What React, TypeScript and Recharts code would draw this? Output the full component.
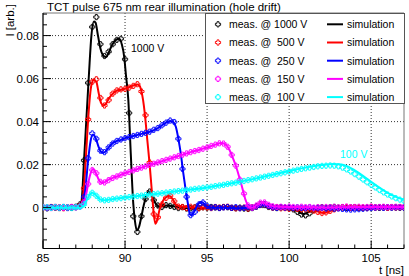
import React from "react";
import {
  ComposedChart,
  Line,
  Scatter,
  XAxis,
  YAxis,
  CartesianGrid,
  ReferenceArea,
  Legend,
} from "recharts";

const VOLTAGES = ["1000 V", " 500 V", " 250 V", " 150 V", " 100 V"];
const COLORS = ["#000000", "#ff0000", "#0000ff", "#ff00ff", "#00ffff"];

// measurement sampling times [ns]
const T_MEAS = [
  85, 85.25, 85.5, 85.75, 86, 86.25, 86.5, 86.75, 87, 87.25, 87.5, 87.75, 88, 88.25, 88.5, 88.75,
  89, 89.25, 89.5, 89.75, 90, 90.25, 90.5, 90.75, 91, 91.25, 91.5, 91.75, 92, 92.25, 92.5, 92.75,
  93, 93.25, 93.5, 93.75, 94, 94.25, 94.5, 94.75, 95, 95.25, 95.5, 95.75, 96, 96.25, 96.5, 96.75,
  97, 97.25, 97.5, 97.75, 98, 98.25, 98.5, 98.75, 99, 99.25, 99.5, 99.75, 100, 100.25, 100.5, 100.75,
  101, 101.25, 101.5, 101.75, 102, 102.25, 102.5, 102.75, 103, 103.25, 103.5, 103.75, 104, 104.25,
  104.5, 104.75, 105, 105.25, 105.5, 105.75, 106, 106.25, 106.5, 106.75, 107,
];

const MEAS_1000 = [
  0.0002, -0.0003, 0.0001, 0.0003, -0.0002, 0.0001, 0.0002, -0.0001, 0.0004, 0.0015, 0.022, 0.058,
  0.084, 0.0886, 0.076, 0.0705, 0.0725, 0.076, 0.078, 0.0785, 0.069, 0.044, -0.004, -0.0113, -0.004,
  0.004, 0.0075, 0.0035, 0.001, 0.0003, 0.0012, 0.0008, 0.0003, -0.0002, 0.0002, -0.0004, -0.0003,
  0.0001, -0.0002, 0.0002, 0, 0.0003, 0.0001, -0.0001, 0.0003, 0.0002, -0.0001, -0.0003, 0, -0.0004,
  -0.0006, -0.0002, 0.0005, 0.0015, 0.0012, 0.0003, 0.0001, -0.0002, 0.0002, -0.0001, -0.0003,
  -0.0008, -0.002, -0.0032, -0.0036, -0.0026, -0.001, 0, 0.0002, -0.0001, 0.0002, 0.0003, 0, 0.0002,
  -0.0001, 0.0001, 0.0002, 0, -0.0002, 0.0001, 0.0002, 0.0001, -0.0001, 0.0002, 0, 0.0001, 0.0002,
  -0.0001, 0.0001,
];

const MEAS_500 = [
  -0.0002, 0.0002, 0.0003, -0.0001, 0.0002, -0.0003, 0.0001, 0.0003, 0.0002, 0.0008, 0.009, 0.041,
  0.0585, 0.0597, 0.051, 0.0475, 0.05, 0.053, 0.0545, 0.055, 0.0552, 0.0558, 0.0566, 0.0574, 0.054,
  0.043, 0.021, -0.003, -0.0045, 0.0015, 0.0045, 0.0055, 0.003, 0.0005, 0.0003, -0.0002, 0.0004,
  0.0001, -0.0003, 0.0002, 0.0001, -0.0002, 0.0003, 0, 0.0002, 0.0004, -0.0001, -0.0003, -0.0002, 0,
  -0.0004, 0.0001, 0.0006, 0.0012, 0.0015, 0.0006, 0, 0.0002, -0.0003, -0.0002, -0.0005, -0.0003,
  -0.0006, -0.0008, -0.0007, -0.001, -0.0014, -0.002, -0.0025, -0.0022, -0.0015, -0.0008, -0.0002,
  0.0001, 0.0003, -0.0001, 0.0002, 0, 0.0001, -0.0002, 0.0003, 0, 0.0002, 0.0001, -0.0001, 0.0002, 0,
  0.0003, 0.0001,
];

const MEAS_250 = [
  0.0001, -0.0002, 0.0002, 0.0001, -0.0001, 0.0003, -0.0002, 0.0001, 0.0002, 0.0005, 0.005, 0.023,
  0.0345, 0.032, 0.0265, 0.0258, 0.028, 0.0298, 0.031, 0.0317, 0.0323, 0.0328, 0.0333, 0.0338,
  0.0343, 0.0348, 0.0353, 0.0362, 0.037, 0.0383, 0.0395, 0.0405, 0.0398, 0.032, 0.018, 0.005,
  -0.0035, -0.002, 0.0015, 0.0024, 0.0008, 0, 0.0002, -0.0002, 0.0001, 0.0003, -0.0001, 0.0002,
  -0.0003, -0.0001, 0.0002, 0, 0.0005, 0.0013, 0.0015, 0.0007, 0.0001, -0.0001, 0.0002, 0, 0.0001,
  -0.0002, 0.0001, -0.0001, -0.0003, 0.0001, -0.0002, -0.0003, -0.0001, -0.0004, -0.0002, -0.0005,
  -0.0004, -0.0006, -0.0008, -0.0009, -0.0008, -0.0007, -0.0005, -0.0003, -0.0002, 0, 0.0001,
  -0.0001, 0.0002, 0, 0.0001, 0.0002, 0,
];

const MEAS_150 = [
  0.0002, 0.0001, -0.0002, 0.0003, 0.0001, -0.0001, 0.0002, 0.0003, 0.0001, 0.0005, 0.0025, 0.011,
  0.0175, 0.016, 0.012, 0.0117, 0.0128, 0.0138, 0.0145, 0.0153, 0.016, 0.0166, 0.0173, 0.018, 0.0186,
  0.0192, 0.0198, 0.0204, 0.021, 0.0216, 0.0222, 0.0228, 0.0234, 0.024, 0.0246, 0.0252, 0.0258,
  0.0263, 0.0268, 0.0274, 0.028, 0.0287, 0.0293, 0.0299, 0.0298, 0.0283, 0.0245, 0.0195, 0.013,
  0.0065, 0.001, 0, 0.001, 0.0023, 0.0024, 0.0013, 0.0006, 0.0003, 0.0004, 0.0002, 0.0005, 0.0003,
  0.0001, 0.0004, 0.0002, 0.0003, 0, 0.0002, 0.0001, 0.0003, 0.0002, 0.0004, 0.0001, 0.0003, 0.0005,
  0.0002, 0.0003, 0.0004, 0.0002, 0.0003, 0.0005, 0.0002, 0.0003, 0.0004, 0.0002, 0.0003, 0.0004,
  0.0002, 0.0003,
];

const MEAS_100 = [
  0.0001, 0.0002, -0.0001, 0.0002, 0, 0.0003, 0.0001, -0.0002, 0.0002, 0.0004, 0.0015, 0.005, 0.0069,
  0.0055, 0.0038, 0.0034, 0.0036, 0.004, 0.0042, 0.0044, 0.0047, 0.0049, 0.0051, 0.0054, 0.0056,
  0.0058, 0.0061, 0.0063, 0.0065, 0.0067, 0.007, 0.0072, 0.0075, 0.0077, 0.0079, 0.0082, 0.0084,
  0.0087, 0.0089, 0.0092, 0.0094, 0.0097, 0.01, 0.0103, 0.0106, 0.011, 0.0113, 0.0116, 0.012, 0.0124,
  0.0128, 0.0132, 0.0136, 0.014, 0.0144, 0.0148, 0.0152, 0.0156, 0.016, 0.0164, 0.0168, 0.0172,
  0.0176, 0.018, 0.0183, 0.0186, 0.0189, 0.0192, 0.0194, 0.0195, 0.0196, 0.0195, 0.0192, 0.0186,
  0.0178, 0.0168, 0.0156, 0.0144, 0.0131, 0.0118, 0.0106, 0.0094, 0.0082, 0.0071, 0.0061, 0.0052,
  0.0044, 0.0037, 0.0031,
];

// simulation curves: [t (ns), I (arb.)]
const SIM_1000: [number, number][] = [
  [85, 0], [87, 0], [87.2, 0.0003], [87.35, 0.003], [87.5, 0.022], [87.65, 0.042], [87.8, 0.062],
  [87.95, 0.08], [88.1, 0.0865], [88.2, 0.086], [88.35, 0.08], [88.5, 0.074], [88.7, 0.0705],
  [88.85, 0.07], [89, 0.072], [89.2, 0.0755], [89.45, 0.078], [89.65, 0.0785], [89.8, 0.076],
  [89.95, 0.07], [90.05, 0.062], [90.2, 0.05], [90.35, 0.025], [90.5, 0.002], [90.6, -0.006],
  [90.72, -0.0106], [90.85, -0.009], [91, -0.004], [91.15, 0.0015], [91.3, 0.0055], [91.45, 0.0075],
  [91.6, 0.0065], [91.75, 0.0035], [91.9, 0.0015], [92.1, 0.0005], [92.5, 0.001], [93, 0.0005],
  [94, -0.0003], [95, 0], [96, 0.0003], [97, 0], [97.5, -0.0005], [98, 0.0003], [98.4, 0.0015],
  [99, 0.0005], [100, -0.0003], [100.5, -0.0015], [100.9, -0.003], [101.3, -0.0015], [101.8, 0],
  [103, 0.0002], [105, 0], [107, 0],
];

const SIM_500: [number, number][] = [
  [85, 0], [87.2, 0], [87.35, 0.001], [87.5, 0.01], [87.65, 0.028], [87.76, 0.042], [87.95, 0.057],
  [88.1, 0.0595], [88.25, 0.0585], [88.4, 0.053], [88.55, 0.0485], [88.7, 0.0475], [88.85, 0.0485],
  [89, 0.0505], [89.25, 0.053], [89.5, 0.0545], [89.75, 0.0548], [90, 0.0553], [90.25, 0.056],
  [90.5, 0.0568], [90.75, 0.0573], [90.9, 0.0565], [91, 0.054], [91.1, 0.05], [91.2, 0.044],
  [91.35, 0.032], [91.5, 0.02], [91.65, 0.006], [91.75, -0.003], [91.85, -0.0075], [91.95, -0.006],
  [92.1, -0.001], [92.3, 0.003], [92.5, 0.0048], [92.7, 0.0055], [92.9, 0.004], [93.1, 0.0015],
  [93.4, 0.0005], [94, 0.0002], [95, 0], [96, 0.0003], [97, -0.0003], [98, 0.0005], [98.4, 0.0015],
  [99, 0], [100, -0.0005], [101, -0.0008], [101.6, -0.0015], [102.1, -0.0025], [102.6, -0.0012],
  [103.2, 0], [105, 0], [107, 0],
];

const SIM_250: [number, number][] = [
  [85, 0], [87.3, 0], [87.45, 0.002], [87.6, 0.01], [87.75, 0.022], [87.9, 0.031], [88.05, 0.034],
  [88.2, 0.0325], [88.4, 0.028], [88.6, 0.0255], [88.8, 0.026], [89, 0.028], [89.25, 0.03],
  [89.5, 0.031], [89.75, 0.0315], [90, 0.0323], [90.5, 0.0333], [91, 0.0343], [91.5, 0.0353],
  [92, 0.037], [92.5, 0.0395], [92.75, 0.0403], [92.95, 0.0398], [93.1, 0.0375], [93.25, 0.032],
  [93.4, 0.025], [93.55, 0.016], [93.7, 0.008], [93.85, 0.001], [93.95, -0.003], [94.05, -0.0035],
  [94.2, -0.002], [94.4, 0.001], [94.6, 0.0026], [94.8, 0.002], [95, 0.0005], [95.3, 0], [96, 0],
  [97, -0.0003], [98, 0.0005], [98.4, 0.0015], [99, 0], [100, 0], [101, -0.0003], [103, -0.0005],
  [104, -0.0008], [104.5, -0.0005], [105.5, 0], [107, 0],
];

const SIM_150: [number, number][] = [
  [85, 0], [87.3, 0], [87.5, 0.002], [87.65, 0.007], [87.8, 0.013], [87.95, 0.017], [88.05, 0.018],
  [88.2, 0.0165], [88.4, 0.013], [88.6, 0.0114], [88.8, 0.012], [89, 0.013], [89.5, 0.0145],
  [90, 0.016], [90.5, 0.0173], [91, 0.0186], [91.5, 0.0198], [92, 0.021], [92.5, 0.0222],
  [93, 0.0234], [93.5, 0.0246], [94, 0.0258], [94.5, 0.0268], [95, 0.028], [95.5, 0.0293],
  [95.85, 0.03], [96.1, 0.0295], [96.35, 0.027], [96.55, 0.0235], [96.75, 0.0195], [96.95, 0.0145],
  [97.15, 0.009], [97.35, 0.0035], [97.55, 0.0003], [97.75, 0], [98, 0.001], [98.35, 0.0026],
  [98.7, 0.0015], [99.1, 0.0005], [100, 0.0003], [102, 0.0001], [104, 0.0003], [107, 0.0003],
];

const SIM_100: [number, number][] = [
  [85, 0], [87.3, 0], [87.5, 0.001], [87.7, 0.004], [87.85, 0.006], [88, 0.0069], [88.2, 0.006],
  [88.45, 0.004], [88.7, 0.0034], [89, 0.0037], [89.5, 0.0042], [90, 0.0047], [91, 0.0056],
  [92, 0.0065], [93, 0.0075], [94, 0.0084], [95, 0.0094], [96, 0.0106], [97, 0.012], [98, 0.0136],
  [99, 0.0153], [100, 0.017], [101, 0.0186], [102, 0.0198], [102.7, 0.0203], [103.2, 0.0201],
  [103.6, 0.0191], [104, 0.0173], [104.5, 0.0148], [105, 0.012], [105.5, 0.0093], [106, 0.0069],
  [106.5, 0.005], [107, 0.0036],
];

const X_TICKS = [85, 86, 87, 88, 89, 90, 91, 92, 93, 94, 95, 96, 97, 98, 99, 100, 101, 102, 103, 104, 105, 106, 107];
const X_MAJOR = [85, 90, 95, 100, 105];
const Y_TICKS = [
  -0.015, -0.01, -0.005, 0, 0.005, 0.01, 0.015, 0.02, 0.025, 0.03, 0.035, 0.04, 0.045, 0.05, 0.055,
  0.06, 0.065, 0.07, 0.075, 0.08, 0.085, 0.09,
];
const Y_MAJOR = [0, 0.02, 0.04, 0.06, 0.08];

const measSeries = [MEAS_1000, MEAS_500, MEAS_250, MEAS_150, MEAS_100].map((vals) =>
  vals.map((v, i) => ({ t: T_MEAS[i], v }))
);
const simSeries = [SIM_1000, SIM_500, SIM_250, SIM_150, SIM_100].map((pts) =>
  pts.map(([t, v]) => ({ t, v }))
);

const FONT = "'Liberation Sans', Arial, sans-serif";

function crossPath(cx: number, cy: number) {
  return `M${cx - 1},${cy - 2.6}h2v1.6h1.6v2h-1.6v1.6h-2v-1.6h-1.6v-2h1.6z`;
}

const crossShape = (color: string) => (props: any) => {
  const { cx, cy } = props;
  if (cx == null || cy == null) return <g />;
  return <path d={crossPath(cx, cy)} fill="none" stroke={color} strokeWidth={0.9} />;
};

function XTick(props: any) {
  const { x, y, payload } = props;
  const major = X_MAJOR.includes(payload.value);
  return (
    <g>
      <line x1={x} x2={x} y1={y} y2={y - (major ? 8 : 4)} stroke="#000" />
      {major && (
        <text x={x} y={y + 13} textAnchor="middle" fontSize={11.5} fill="#000">
          {payload.value}
        </text>
      )}
    </g>
  );
}

function YTick(props: any) {
  const { x, y, payload } = props;
  const major = Y_MAJOR.includes(payload.value);
  return (
    <g>
      <line x1={x} x2={x + (major ? 8 : 4)} y1={y} y2={y} stroke="#000" />
      {major && (
        <text x={x - 4} y={y + 4} textAnchor="end" fontSize={11.5} fill="#000">
          {String(payload.value)}
        </text>
      )}
    </g>
  );
}

function LegendBox() {
  return (
    <svg width={200} height={92} style={{ display: "block", fontFamily: FONT }}>
      <rect x={0.5} y={0.5} width={199} height={90} fill="#fff" stroke="#555" />
      {VOLTAGES.map((v, i) => {
        const cy = 11.3 + i * 18.2;
        return (
          <g key={v}>
            <path d={crossPath(13, cy)} fill="none" stroke={COLORS[i]} strokeWidth={0.9} />
            <text x={24} y={cy + 3.8} fontSize={10.5} fill="#000" style={{ whiteSpace: "pre" }}>
              {`meas. @ ${v}`}
            </text>
            <line x1={122} x2={138} y1={cy} y2={cy} stroke={COLORS[i]} strokeWidth={2} />
            <text x={142} y={cy + 3.8} fontSize={10.5} fill="#000">
              simulation
            </text>
          </g>
        );
      })}
    </svg>
  );
}

export default function App() {
  return (
    <div style={{ position: "absolute", left: 0, top: 0, fontFamily: FONT }}>
      <ComposedChart width={409} height={276} margin={{ top: 13, right: 5, bottom: 0, left: 0 }}>
        <CartesianGrid
          horizontalValues={Y_MAJOR}
          verticalValues={[90, 95, 100, 105]}
          stroke="#333"
          strokeDasharray="1 2"
        />
        <XAxis
          dataKey="t"
          type="number"
          domain={[85, 107]}
          allowDataOverflow
          ticks={X_TICKS}
          interval={0}
          tickSize={0}
          tickMargin={0}
          height={27.5}
          tick={<XTick />}
          tickLine={false}
          axisLine={{ stroke: "#000" }}
        />
        <YAxis
          type="number"
          domain={[-0.019, 0.0905]}
          allowDataOverflow
          ticks={Y_TICKS}
          interval={0}
          tickSize={0}
          tickMargin={0}
          width={43}
          tick={<YTick />}
          tickLine={false}
          axisLine={{ stroke: "#000" }}
        />
        <ReferenceArea x1={85} x2={107} y1={-0.019} y2={0.0905} fill="none" stroke="#777" />
        {measSeries.map((d, i) => [
          <Scatter
            key={`m${i}`}
            data={d}
            dataKey="v"
            shape={crossShape(COLORS[i])}
            zIndex={600 + 2 * i}
            isAnimationActive={false}
          />,
          <Line
            key={`s${i}`}
            data={simSeries[i]}
            dataKey="v"
            type="monotone"
            stroke={COLORS[i]}
            strokeWidth={2}
            dot={false}
            activeDot={false}
            zIndex={601 + 2 * i}
            isAnimationActive={false}
          />,
        ])}
        <Legend
          layout="vertical"
          align="center"
          verticalAlign="middle"
          content={() => <LegendBox />}
          wrapperStyle={{ left: 205, top: 13, width: 200, height: 92, margin: 0, padding: 0 }}
        />
        <text x={47} y={11} fontSize={11.5} fill="#000">
          TCT pulse 675 nm rear illumination (hole drift)
        </text>
        <text transform="translate(14,4) rotate(-90)" textAnchor="end" fontSize={11.5} fill="#000">
          I [arb.]
        </text>
        <text x={404} y={274} textAnchor="end" fontSize={11.5} fill="#000">
          t [ns]
        </text>
        <text x={131} y={52} fontSize={10.5} fill="#000">
          1000 V
        </text>
        <text x={340} y={157.5} fontSize={10.5} fill="#00ffff">
          100 V
        </text>
      </ComposedChart>
    </div>
  );
}
